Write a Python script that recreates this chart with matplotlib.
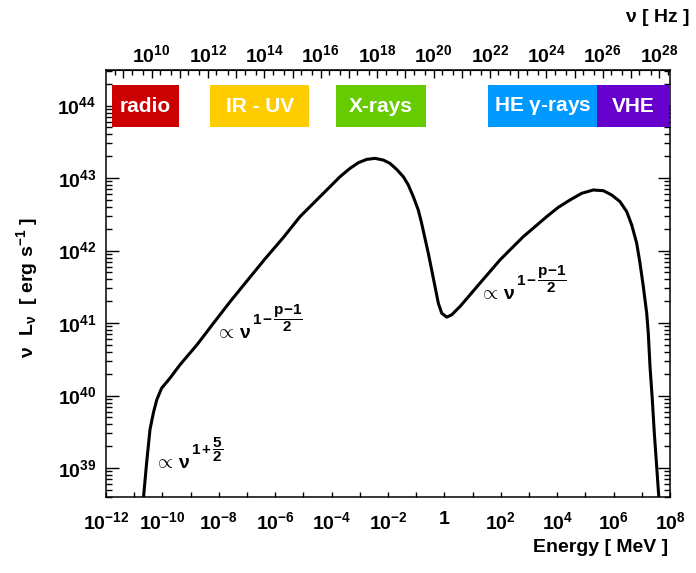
import numpy as np
import matplotlib
matplotlib.use('Agg')
import matplotlib.pyplot as plt
from matplotlib.patches import Rectangle
from matplotlib.ticker import FixedLocator, FixedFormatter, NullFormatter

plt.rcParams['font.family'] = ['Liberation Sans', 'DejaVu Sans']
plt.rcParams['font.weight'] = 'bold'
plt.rcParams['mathtext.fontset'] = 'custom'
plt.rcParams['mathtext.rm'] = 'Liberation Sans:bold'
plt.rcParams['mathtext.it'] = 'Liberation Sans:bold'
plt.rcParams['mathtext.bf'] = 'Liberation Sans:bold'
plt.rcParams['mathtext.default'] = 'rm'

# SED curve (log10 of energy in MeV, log10 of nu L_nu)
log_energy = [-10.677, -10.56, -10.44, -10.32, -10.20, -10.03, -9.73, -9.376, -8.773,
              -8.206, -7.603, -7.000, -6.362, -5.723, -5.121, -4.766, -4.411, -4.057,
              -3.702, -3.348, -3.053, -2.756, -2.461, -2.167, -1.929, -1.693, -1.457,
              -1.280, -1.103, -0.926, -0.807, -0.690, -0.571, -0.452, -0.333, -0.216,
              -0.096, 0.081, 0.259, 0.493, 0.553, 0.908, 1.262, 1.617, 1.972, 2.385,
              2.798, 3.213, 3.627, 4.040, 4.454, 4.869, 5.281, 5.636, 5.933, 6.227,
              6.465, 6.642, 6.819, 6.936, 7.054, 7.113, 7.174, 7.230, 7.291, 7.373,
              7.444, 7.528, 7.610]
log_lum = [38.565, 39.07, 39.53, 39.76, 39.94, 40.10, 40.24, 40.424, 40.700,
           40.989, 41.292, 41.581, 41.884, 42.174, 42.467, 42.605, 42.743, 42.880,
           43.018, 43.133, 43.211, 43.257, 43.271, 43.248, 43.202, 43.119, 43.018,
           42.904, 42.743, 42.559, 42.376, 42.169, 41.963, 41.733, 41.503, 41.274,
           41.136, 41.081, 41.113, 41.205, 41.227, 41.389, 41.550, 41.710, 41.870, 42.032,
           42.191, 42.329, 42.467, 42.596, 42.697, 42.789, 42.835, 42.825, 42.766, 42.674,
           42.536, 42.353, 42.101, 41.825, 41.503, 41.32, 41.136, 40.86, 40.40, 39.94,
           39.48, 39.02, 38.56]

# spectral bands (energy range in MeV)
band_names = ['radio', 'IR - UV', 'X-rays', r'HE $\gamma$-rays', 'VHE']
band_lo = [10**-11.8, 10**-8.3, 10**-3.85, 10**1.55, 10**5.4]
band_hi = [10**-9.4, 10**-4.8, 10**-0.65, 10**5.4, 10**7.97]
band_colors = ['#cc0000', '#ffcc00', '#66cc00', '#0099ff', '#6600cc']

energy_ticks = [10.0**k for k in range(-12, 9, 2)]
energy_labels = ['$10^{%d}$' % k if k != 0 else '1' for k in range(-12, 9, 2)]
hz_decades = list(range(8, 29))
hz_labels = ['$10^{%d}$' % k if k % 2 == 0 and k >= 10 else '' for k in hz_decades]
lum_ticks = [10.0**k for k in range(39, 45)]
lum_labels = ['$10^{%d}$' % k for k in range(39, 45)]

MEV_TO_HZ = 2.418e20

fig = plt.figure(figsize=(6.96, 5.73), dpi=100)
ax = fig.add_axes([106 / 696, 1 - 497 / 573, 564 / 696, 427 / 573])

E = 10.0 ** np.array(log_energy)
L = 10.0 ** np.array(log_lum)
ax.plot(E, L, color='black', lw=2.2, solid_joinstyle='round', zorder=3)

ax.set_xscale('log')
ax.set_yscale('log')
ax.set_xlim(1e-12, 1e8)
ax.set_ylim(10**38.6, 10**44.49)

# band boxes
y_lo, y_hi = 10**43.70, 10**44.28
for name, lo, hi, c in zip(band_names, band_lo, band_hi, band_colors):
    ax.add_patch(Rectangle((lo, y_lo), hi - lo, y_hi - y_lo, color=c, lw=0, zorder=2))
    xc = 10 ** ((np.log10(lo) + np.log10(hi)) / 2)
    ax.text(xc, 10**43.99, name, color='white', fontsize=15, fontweight='bold',
            ha='center', va='center', zorder=4)


# power-law annotations: base "∝ ν" plus a raised exponent
def power_law(x, y, exponent):
    base = ax.text(x, y, r'$\propto\,\nu$', fontsize=14, ha='left', va='baseline')
    ax.annotate(exponent, xy=(1.0, 0.45), xycoords=base, xytext=(0.5, 0),
                textcoords='offset points', fontsize=11, ha='left', va='bottom')


power_law(10**-10.3, 10**39.0, r'$1\,{+}\,\dfrac{5}{2}$')
power_law(10**-8.15, 10**40.8, r'$1\,{-}\,\dfrac{p{-}1}{2}$')
power_law(10**1.22, 10**41.33, r'$1\,{-}\,\dfrac{p{-}1}{2}$')

# bottom axis
ax.xaxis.set_major_locator(FixedLocator(energy_ticks))
ax.xaxis.set_major_formatter(FixedFormatter(energy_labels))
ax.xaxis.set_minor_locator(FixedLocator([10.0**k for k in range(-12, 9)]))
ax.xaxis.set_minor_formatter(NullFormatter())
ax.tick_params(axis='x', which='major', direction='in', length=3.5, width=1, top=False, labelsize=14, pad=10)
ax.tick_params(axis='x', which='minor', direction='in', length=3.5, width=1, top=False)

# left/right axis
ax.yaxis.set_major_locator(FixedLocator(lum_ticks))
ax.yaxis.set_major_formatter(FixedFormatter(lum_labels))
ax.tick_params(axis='y', which='major', direction='in', length=9, width=1, right=True, labelsize=14, pad=7)
ax.tick_params(axis='y', which='minor', direction='in', length=4.5, width=1, right=True)
ax.yaxis.set_minor_formatter(NullFormatter())

for s in ax.spines.values():
    s.set_linewidth(1.1)

# top axis in Hz
top = ax.secondary_xaxis('top', functions=(lambda e: e * MEV_TO_HZ, lambda n: n / MEV_TO_HZ))
top.set_xscale('log')
top.xaxis.set_major_locator(FixedLocator([10.0**k for k in hz_decades]))
top.xaxis.set_major_formatter(FixedFormatter(hz_labels))
top.xaxis.set_minor_locator(FixedLocator([m * 10.0**k for k in hz_decades for m in (2, 5)]))
top.xaxis.set_minor_formatter(NullFormatter())
top.tick_params(which='major', direction='in', length=6, width=1, labelsize=14, pad=3)
top.tick_params(which='minor', direction='in', length=3.5, width=1)

fig.text(668 / 696, 1 - 548 / 573, 'Energy [ MeV ]', fontsize=14, fontweight='bold', ha='right', va='center')
fig.text(690 / 696, 1 - 18 / 573, r'$\nu$ [ Hz ]', fontsize=14, fontweight='bold', ha='right', va='center')
fig.text(27 / 696, 1 - 287 / 573, r'$\nu\ \ L_{\nu}$  [ erg s$^{-1}$ ]', fontsize=14, fontweight='bold',
         rotation=90, ha='center', va='center')

fig.savefig('out.png', dpi=100)
